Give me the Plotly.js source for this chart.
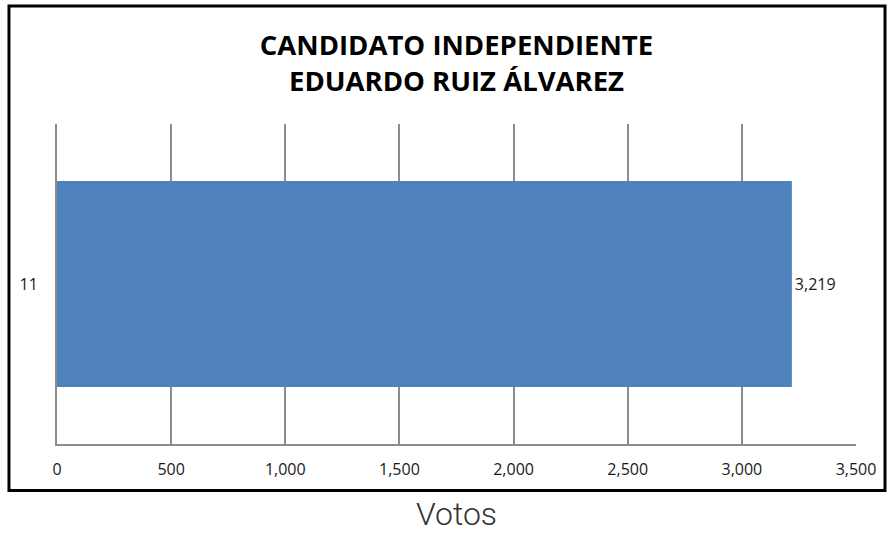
<!DOCTYPE html>
<html>
<head>
<meta charset="utf-8">
<script src="https://cdn.plot.ly/plotly-3.0.1.min.js"></script>
<style>
html,body{margin:0;padding:0;background:#fff;}
#chart{width:889px;height:533px;}
</style>
</head>
<body>
<div id="chart"></div>
<script>
// Data
const categories = ['11'];
const votes = [3219];
const xTickValues = [0, 500, 1000, 1500, 2000, 2500, 3000, 3500];
const xTickLabels = ['0', '500', '1,000', '1,500', '2,000', '2,500', '3,000', '3,500'];
const titleLines = ['CANDIDATO INDEPENDIENTE', 'EDUARDO RUIZ ÁLVAREZ'];
const xTitle = 'Votos';

const gridColor = '#8c8c8c';
const labelFont = {family: 'Open Sans, sans-serif', size: 16, color: '#1a1a1a'};

const trace = {
  type: 'bar',
  orientation: 'h',
  y: categories,
  x: votes,
  marker: {color: '#4f81bd', line: {width: 0}},
  text: votes.map(v => v.toLocaleString('en-US')),
  textposition: 'outside',
  textfont: labelFont,
  cliponaxis: false,
  hoverinfo: 'none'
};

const layout = {
  width: 889,
  height: 533,
  margin: {l: 57, r: 33, t: 124, b: 89},
  paper_bgcolor: '#fff',
  plot_bgcolor: '#fff',
  showlegend: false,
  bargap: 0.356,
  title: {
    text: titleLines.join('<br>'),
    font: {family: 'Open Sans, sans-serif', size: 27.5, color: '#000', weight: 'bold'},
    x: 0.5, xref: 'paper', xanchor: 'center',
    y: 0.897, yref: 'container', yanchor: 'top'
  },
  xaxis: {
    range: [0, 3500],
    tickvals: xTickValues,
    ticktext: xTickLabels,
    tickfont: labelFont,
    showgrid: true,
    gridcolor: gridColor,
    gridwidth: 2,
    showline: true,
    linecolor: gridColor,
    linewidth: 2,
    zeroline: false,
    ticks: '',
    ticklabelstandoff: 10,
    fixedrange: true,
    title: {
      text: xTitle,
      font: {family: 'Roboto, sans-serif', size: 32, color: '#333', weight: 300},
      standoff: 26
    },
    automargin: false
  },
  yaxis: {
    type: 'category',
    showgrid: false,
    showline: true,
    linecolor: gridColor,
    linewidth: 2,
    zeroline: false,
    ticks: '',
    tickfont: labelFont,
    ticklabelstandoff: 14,
    fixedrange: true,
    automargin: false
  },
  shapes: [{
    type: 'rect',
    xref: 'paper', yref: 'paper',
    x0: -0.0601, x1: 1.0363,
    y0: -0.1453, y1: 1.369,
    line: {color: '#000', width: 3},
    fillcolor: 'rgba(0,0,0,0)',
    layer: 'above'
  }]
};

Plotly.newPlot('chart', [trace], layout, {staticPlot: true, displayModeBar: false});
</script>
</body>
</html>
